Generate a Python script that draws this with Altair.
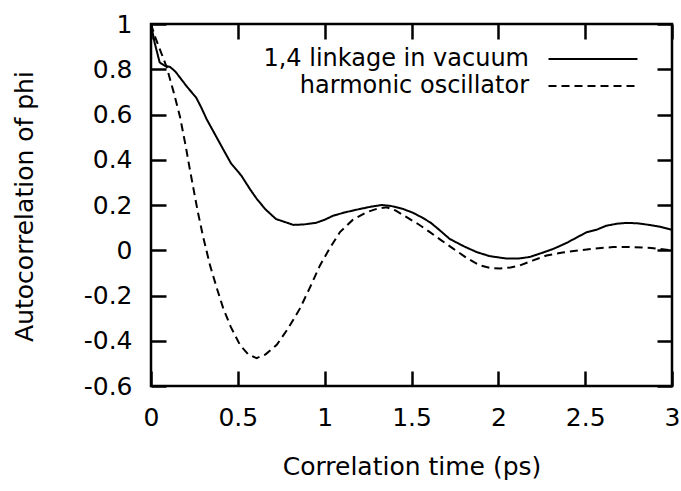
import altair as alt
import pandas as pd

# ---- data ----
x_ticks = [0, 0.5, 1, 1.5, 2, 2.5, 3]
y_ticks = [-0.6, -0.4, -0.2, 0, 0.2, 0.4, 0.6, 0.8, 1]
series_names = ["1,4 linkage in vacuum", "harmonic oscillator"]

vac_t = [0, 0.02, 0.05, 0.08, 0.11, 0.14, 0.17, 0.21, 0.26, 0.29, 0.32, 0.37,
         0.42, 0.46, 0.52, 0.57, 0.61, 0.66, 0.72, 0.77, 0.82, 0.88, 0.95, 1.0,
         1.05, 1.12, 1.2, 1.27, 1.33, 1.38, 1.45, 1.51, 1.56, 1.61, 1.66, 1.72,
         1.8, 1.875, 1.95, 2.05, 2.12, 2.18, 2.25, 2.32, 2.4, 2.46, 2.51, 2.57,
         2.62, 2.68, 2.74, 2.8, 2.87, 2.93, 3.0]
vac_y = [1.0, 0.92, 0.83, 0.815, 0.81, 0.79, 0.76, 0.72, 0.675, 0.63, 0.58, 0.51,
         0.44, 0.385, 0.33, 0.27, 0.226, 0.18, 0.138, 0.125, 0.112, 0.114, 0.121, 0.135,
         0.153, 0.168, 0.182, 0.193, 0.2, 0.196, 0.183, 0.165, 0.145, 0.122, 0.09, 0.05,
         0.018, -0.008, -0.026, -0.037, -0.036, -0.03, -0.012, 0.007, 0.035, 0.06, 0.08, 0.092,
         0.108, 0.117, 0.121, 0.119, 0.112, 0.104, 0.09]

ho_t = [0, 0.023, 0.05, 0.09, 0.13, 0.167, 0.2, 0.22, 0.245, 0.27, 0.3, 0.34,
        0.38, 0.416, 0.46, 0.512, 0.56, 0.608, 0.66, 0.724, 0.79, 0.858, 0.915, 0.973,
        1.03, 1.088, 1.16, 1.24, 1.3, 1.357, 1.41, 1.472, 1.54, 1.606, 1.67, 1.74,
        1.82, 1.894, 1.95, 2.01, 2.07, 2.124, 2.2, 2.278, 2.37, 2.47, 2.56, 2.66,
        2.777, 2.88, 3.0]
ho_y = [1.0, 0.944, 0.89, 0.81, 0.70, 0.59, 0.46, 0.373, 0.27, 0.168, 0.06, -0.067,
        -0.17, -0.257, -0.34, -0.418, -0.46, -0.477, -0.46, -0.418, -0.345, -0.257, -0.165, -0.067,
        0.01, 0.08, 0.133, 0.168, 0.183, 0.19, 0.175, 0.146, 0.115, 0.08, 0.045, 0.007,
        -0.035, -0.067, -0.078, -0.081, -0.076, -0.067, -0.045, -0.023, -0.01, 0.0, 0.008, 0.014,
        0.014, 0.01, 0.0]

df = pd.concat([
    pd.DataFrame({"t": vac_t, "v": vac_y, "series": series_names[0]}),
    pd.DataFrame({"t": ho_t, "v": ho_y, "series": series_names[1]}),
], ignore_index=True)

W, H = 521, 362
FONT = "DejaVu Sans"
FS = 25

xs = alt.Scale(domain=[0, 3], nice=False, zero=False)
ys = alt.Scale(domain=[-0.6, 1], nice=False, zero=False)

lines = alt.Chart(df).mark_line(color="black", strokeWidth=2, clip=True).encode(
    x=alt.X("t:Q", scale=xs, axis=alt.Axis(
        orient="bottom", values=x_ticks, ticks=False, domain=False, grid=False,
        labelPadding=19, labelFlush=False, labelExpr="'' + datum.value",
        title="Correlation time (ps)", titleY=80, titleBaseline="middle")),
    y=alt.Y("v:Q", scale=ys, axis=alt.Axis(
        orient="left", values=y_ticks, ticks=False, domain=False, grid=False,
        labelPadding=19, labelFlush=False, labelExpr="'' + datum.value",
        title="Autocorrelation of phi", titleX=-127, titleY=182, titleBaseline="middle")),
    strokeDash=alt.StrokeDash("series:N",
        scale=alt.Scale(domain=series_names, range=[[1, 0], [8, 5]]),
        legend=alt.Legend(
            title=None, orient="none", legendX=429.5, legendY=22.5, padding=0,
            symbolType="M-4,0H4", symbolSize=495, symbolStrokeWidth=2,
            symbolStrokeColor="black", symbolFillColor="transparent", symbolOffset=0,
            labelAlign="right", labelOffset={"expr": "-76.5"}, labelFont=FONT, labelFontSize=24,
            labelColor="black", labelLimit=500, rowPadding=2)),
)


def tick_layer(xorient, xoff, yorient, yoff):
    common = dict(labels=False, domain=False, grid=False, ticks=True, tickSize=15,
                  tickWidth=2.5, tickColor="black", title=None)
    return alt.Chart(df).mark_point(opacity=0).encode(
        x=alt.X("t:Q", scale=xs, axis=alt.Axis(orient=xorient, offset={"expr": str(xoff)},
                                                values=x_ticks, **common)),
        y=alt.Y("v:Q", scale=ys, axis=alt.Axis(orient=yorient, offset={"expr": str(yoff)},
                                                values=y_ticks, **common)),
    )


chart = alt.layer(
    lines,
    tick_layer("top", -H, "right", -W),
    tick_layer("bottom", -H, "left", -W),
).resolve_axis(x="independent", y="independent").properties(
    width=W, height=H,
    background="white",
    autosize=alt.AutoSizeParams(type="none"),
    padding={"left": 151, "top": 24, "right": 681 - 151 - W, "bottom": 491 - 24 - H},
).configure_view(
    stroke="black", strokeWidth=2.5
).configure_axis(
    labelFont=FONT, labelFontSize=FS, labelColor="black",
    titleFont=FONT, titleFontSize=FS, titleColor="black", titleFontWeight="normal",
)

chart.save("out.html", embed_options={"renderer": "svg", "actions": False})
